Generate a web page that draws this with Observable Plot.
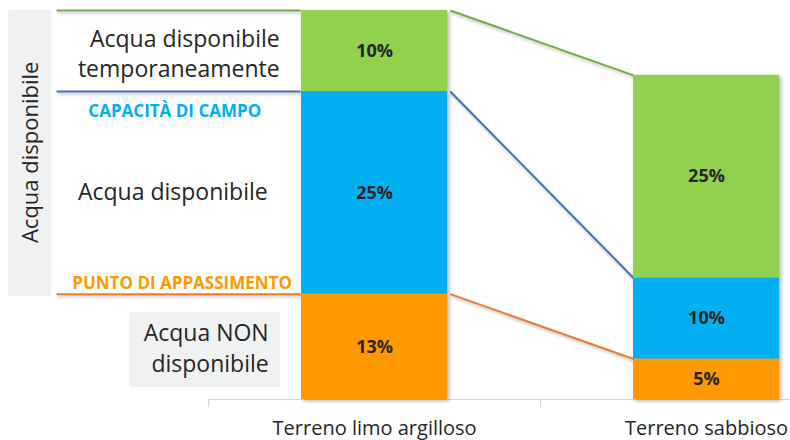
<!DOCTYPE html>
<html>
<head>
<meta charset="utf-8">
<script src="https://cdn.jsdelivr.net/npm/d3@7"></script>
<script src="https://cdn.jsdelivr.net/npm/@observablehq/plot@0.6"></script>
<style>
  html, body { margin: 0; padding: 0; background: #fff; }
  #chart svg { overflow: visible; }
</style>
</head>
<body>
<div id="chart"></div>
<script>
// ---- data ----
const categories = ["Terreno limo argilloso", "Terreno sabbioso"];
const layers = ["Acqua NON disponibile", "Acqua disponibile", "Acqua disponibile temporaneamente"];
const clayValues = [13, 25, 10];
const sandValues = [5, 10, 25];
const layerColors = ["#FF9900", "#00B0F0", "#92D050"];
const lineColors = ["#ED7D31", "#4472C4", "#70AD47"];
const levelLabels = ["PUNTO DI APPASSIMENTO", "CAPACITÀ DI CAMPO"];
const sideTitle = "Acqua disponibile";

// ---- derived tables ----
const seriesValues = [clayValues, sandValues];
const barHalf = 0.22;
const rows = [];
const tops = [];
seriesValues.forEach((vals, i) => {
  let acc = 0;
  const t = [];
  vals.forEach((v, k) => {
    rows.push({cat: i, layer: k, y1: acc, y2: acc + v, label: v + "%"});
    acc += v;
    t.push(acc);
  });
  tops.push(t);
});
const links = layers.map((l, k) => ({k, xa: barHalf, ya: tops[0][k], xb: 1 - barHalf, yb: tops[1][k]}));
const hlines = layers.map((l, k) => ({k, xa: -0.958, xb: -barHalf - 0.003, y: tops[0][k]}));
const total = tops[0][2];

const textColor = "#262626";
const font = "'Open Sans', Lato, sans-serif";

const chart = Plot.plot({
  width: 790,
  height: 440,
  marginTop: 10,
  marginBottom: 41,
  marginLeft: 0,
  marginRight: 0,
  style: {fontFamily: font, background: "#fff"},
  x: {domain: [-1.127, 1.253], axis: null},
  y: {domain: [0, total], axis: null},
  marks: [
    // gray boxes
    Plot.rect([{}], {x1: -1.102, x2: -0.973, y1: tops[0][0] - 0.3, y2: total, fill: "#F0F1F3"}),
    Plot.rect([{}], {x1: -0.738, x2: -0.283, y1: 1.5, y2: 10.7, fill: "#F0F1F3"}),
    // axis
    Plot.ruleY([0], {x1: -0.5, x2: 1.253, stroke: "#d9d9d9", strokeWidth: 1.2}),
    Plot.ruleX([-0.5, 0.5], {y1: 0, y2: -1, stroke: "#d9d9d9", strokeWidth: 1.2}),
    // horizontal level lines
    Plot.link(hlines, {x1: "xa", x2: "xb", y1: "y", y2: "y", stroke: d => lineColors[d.k], strokeWidth: 2}),
    // connecting diagonals
    Plot.link(links, {x1: d => d.xa + 0.008, y1: "ya", x2: "xb", y2: "yb", stroke: d => lineColors[d.k], strokeWidth: 2}),
    // bars
    Plot.rect(rows, {x1: d => d.cat - barHalf, x2: d => d.cat + barHalf, y1: "y1", y2: "y2", fill: d => layerColors[d.layer]}),
    Plot.text(rows, {x: "cat", y: d => (d.y1 + d.y2) / 2, text: "label", fontWeight: "bold", fontSize: 18, fill: textColor}),
    // category labels
    Plot.text(categories, {x: (d, i) => i, y: 0, dy: 29, text: d => d, fontSize: 20, fill: textColor}),
    // side annotations
    Plot.text([layers[2].replace(" temporaneamente", "\ntemporaneamente")], {x: -0.286, y: (tops[0][1] + tops[0][2]) / 2, dy: 1, text: d => d, textAnchor: "end", fontSize: 23, lineHeight: 1.3, fill: textColor}),
    Plot.text([layers[1]], {x: -0.322, y: (tops[0][0] + tops[0][1]) / 2, text: d => d, textAnchor: "end", fontSize: 23, fill: textColor}),
    Plot.text([layers[0].replace(" disponibile", "\ndisponibile")], {x: -0.319, y: tops[0][0] / 2, dy: 0, text: d => d, textAnchor: "end", fontSize: 23, lineHeight: 1.35, fill: textColor}),
    Plot.text([levelLabels[1]], {x: -0.602, y: tops[0][1], dy: 20, text: d => d, fontWeight: "bold", fontSize: 17, fill: "#00B0F0"}),
    Plot.text([levelLabels[0]], {x: -0.58, y: tops[0][0], dy: -11, text: d => d, fontWeight: "bold", fontSize: 17, fill: "#FF9900"}),
    Plot.text([sideTitle], {x: -1.035, y: (tops[0][0] + total) / 2, text: d => d, rotate: -90, fontSize: 22, fill: textColor})
  ]
});
document.getElementById("chart").appendChild(chart);
// subtle drop shadows as in the reference
const gs = chart.querySelectorAll("g[aria-label='rect'], g[aria-label='link']");
gs.forEach((g, idx) => {
  if (idx >= 2 && g.getAttribute("aria-label") === "rect") g.style.filter = "drop-shadow(2px 2px 2px rgba(0,0,0,0.3))";
  if (g.getAttribute("aria-label") === "link") g.style.filter = "drop-shadow(1px 2px 1.5px rgba(0,0,0,0.25))";
});
</script>
</body>
</html>
